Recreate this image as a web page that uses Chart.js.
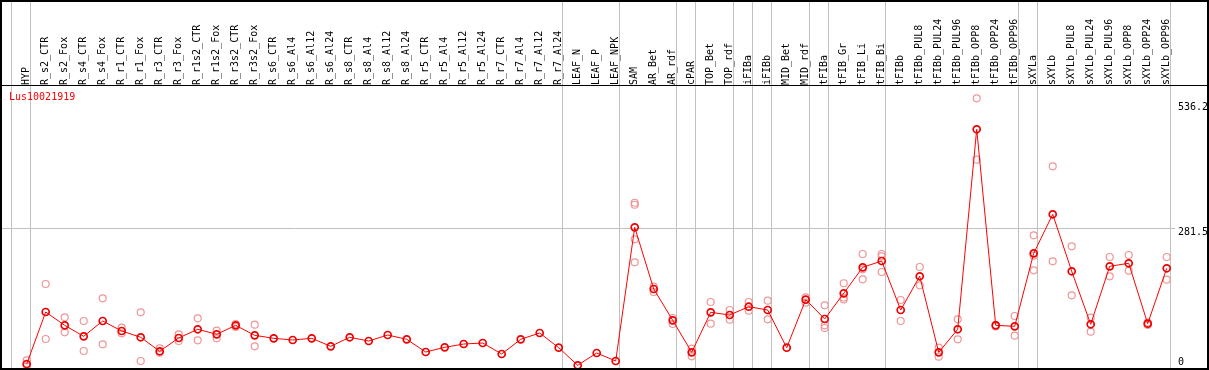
<!DOCTYPE html>
<html><head><meta charset="utf-8">
<script src="https://cdn.jsdelivr.net/npm/chart.js@4/dist/chart.umd.min.js"></script>
<style>html,body{margin:0;padding:0;background:#fff;overflow:hidden}canvas{display:block}</style>
</head><body>
<canvas id="c" width="1209" height="370"></canvas>
<script>
const categories = ['HYP','R_s2_CTR','R_s2_Fox','R_s4_CTR','R_s4_Fox','R_r1_CTR','R_r1_Fox','R_r3_CTR','R_r3_Fox','R_r1s2_CTR','R_r1s2_Fox','R_r3s2_CTR','R_r3s2_Fox','R_s6_CTR','R_s6_Al4','R_s6_Al12','R_s6_Al24','R_s8_CTR','R_s8_Al4','R_s8_Al12','R_s8_Al24','R_r5_CTR','R_r5_Al4','R_r5_Al12','R_r5_Al24','R_r7_CTR','R_r7_Al4','R_r7_Al12','R_r7_Al24','LEAF_N','LEAF_P','LEAF_NPK','SAM','AR_Bet','AR_rdf','cPAR','TOP_Bet','TOP_rdf','iFIBa','iFIBb','MID_Bet','MID_rdf','tFIBa','tFIB_Gr','tFIB_Li','tFIB_Bi','tFIBb','tFIBb_PUL8','tFIBb_PUL24','tFIBb_PUL96','tFIBb_OPP8','tFIBb_OPP24','tFIBb_OPP96','sXYLa','sXYLb','sXYLb_PUL8','sXYLb_PUL24','sXYLb_PUL96','sXYLb_OPP8','sXYLb_OPP24','sXYLb_OPP96'];
const meanValues = [4.5,110.4,83.3,60.9,92.1,71.7,58.9,30.4,57.5,75.2,65,83.3,62.9,56.8,53.4,56.8,40.5,58.9,51.3,63.6,54.8,28.9,38.5,45.2,47.3,24.9,54.8,67.6,37.7,1.8,26.9,10.6,283,157.3,93.5,28.3,109.8,104.3,121.2,114.5,37.7,135.5,96.2,148.5,201.5,214.3,114.5,183.2,28.3,75.2,482.7,83.3,81.3,230,309.5,193.4,85.4,203.5,209.7,86.6,199.5];
const replicateA = [12,167.5,99.6,92.1,138.3,78.5,109.8,36.5,65,97.6,72.3,86,84.6,null,null,null,null,null,null,null,null,null,null,null,null,null,null,null,null,null,null,null,333,162,98.2,35.7,130.8,114.5,130.8,133.5,null,140.4,124,169,228.6,228.6,134.9,202.1,37.7,95.6,545.8,84,102.3,266.7,407.3,244.3,98.8,222.5,226.6,89,222.5];
const replicateB = [2,55.4,69.1,31,44.6,67,10.6,27.5,51.3,52.8,56.8,80,40.5,null,null,null,null,null,null,null,null,null,null,null,null,null,null,null,null,null,null,null,329,151.2,86,20.2,86.6,94.7,113.1,95.6,null,129.4,83.3,140,197.4,223.9,92.1,164.8,19.4,54.8,420.7,81,62.1,225.1,213.7,144.5,70.3,183.2,194.6,84,176.2];
const replicateC = [null,null,null,null,null,null,null,null,null,null,null,null,null,null,null,null,null,null,null,null,null,null,null,null,null,null,null,null,null,null,null,null,258.5,null,null,null,null,null,null,null,null,null,77.8,136,177,191.9,null,null,null,null,null,null,null,195.4,null,null,null,null,null,null,null];
const replicateD = [null,null,null,null,null,null,null,null,null,null,null,null,null,null,null,null,null,null,null,null,null,null,null,null,null,null,null,null,null,null,null,null,211.7,null,null,null,null,null,null,null,null,null,null,null,null,null,null,null,null,null,null,null,null,null,null,null,null,null,null,null,null];
const yTickValues = [0, 281.5, 536.2];
const yTickLabels = ['0', '281.5', '536.2'];
const groupEnds = [-1, 0, 28, 31, 34, 35, 37, 38, 39, 41, 42, 45, 52, 53, 60];
const geneId = 'Lus10021919';

const FONT = 'DejaVu Sans Mono';
const X_MIN = -1.3526, X_MAX = 60.436;

const repPoints = [];
[replicateA, replicateB, replicateC, replicateD].forEach(arr => arr.forEach((v, i) => { if (v !== null) repPoints.push({x: i, y: v}); }));

const decor = {
  id: 'decor',
  beforeDraw(chart) {
    const {ctx, chartArea, scales} = chart;
    const x = scales.x;
    ctx.save();
    ctx.strokeStyle = '#c0c0c0';
    ctx.lineWidth = 1;
    groupEnds.forEach(g => {
      const px = Math.round(x.getPixelForValue(g + 0.19)) + 0.5;
      ctx.beginPath(); ctx.moveTo(px, 0); ctx.lineTo(px, chartArea.bottom); ctx.stroke();
    });
    ctx.restore();
  },
  afterDraw(chart) {
    const {ctx, chartArea} = chart;
    ctx.save();
    ctx.fillStyle = '#000';
    ctx.fillRect(0, chartArea.top - 1, chart.width, 1);
    ctx.strokeStyle = '#000';
    ctx.lineWidth = 2;
    ctx.strokeRect(1, 1, chart.width - 2, chart.height - 2);
    ctx.fillStyle = '#ff0000';
    ctx.font = '10px "' + FONT + '"';
    ctx.textBaseline = 'middle';
    ctx.textAlign = 'left';
    ctx.fillText(geneId, chartArea.left + 8, chartArea.top + 11);
    ctx.restore();
  }
};

new Chart(document.getElementById('c'), {
  type: 'line',
  data: {
    datasets: [
      {
        label: 'mean',
        data: meanValues.map((v, i) => ({x: i, y: v})),
        borderColor: '#ff0000',
        borderWidth: 1,
        pointRadius: 3.5,
        pointBorderWidth: 1.7,
        pointBorderColor: '#ee0000',
        pointBackgroundColor: 'rgba(0,0,0,0)',
        tension: 0,
        clip: 8,
        order: 0
      },
      {
        label: 'replicates',
        data: repPoints,
        showLine: false,
        pointRadius: 3.5,
        pointBorderWidth: 1.2,
        pointBorderColor: '#f09696',
        pointBackgroundColor: 'rgba(0,0,0,0)',
        clip: 8,
        order: 1
      }
    ]
  },
  options: {
    responsive: false,
    animation: false,
    layout: {autoPadding: false, padding: {left: 1, right: 1, top: 1, bottom: 1}},
    plugins: {legend: {display: false}, tooltip: {enabled: false}},
    scales: {
      x: {type: 'linear', display: false, min: X_MIN, max: X_MAX},
      x2: {
        type: 'linear', position: 'top', min: X_MIN, max: X_MAX,
        afterBuildTicks: s => { s.ticks = categories.map((c, i) => ({value: i})); },
        afterFit: s => { s.height = 85; s.paddingLeft = 0; s.paddingRight = 0; },
        ticks: {
          callback: (v, i) => categories[i],
          autoSkip: false, minRotation: 90, maxRotation: 90,
          font: {family: FONT, size: 10}, color: '#000', padding: 1, labelOffset: 12
        },
        grid: {display: false, drawTicks: false},
        border: {display: false}
      },
      y: {
        type: 'linear', position: 'right', min: -5.7, max: 570.9,
        afterBuildTicks: s => { s.ticks = yTickValues.map(v => ({value: v})); },
        afterFit: s => { s.width = 33; s.paddingTop = 0; s.paddingBottom = 0; },
        ticks: {
          callback: (v, i) => (yTickValues[i] === 0 ? [yTickLabels[i], ''] : yTickLabels[i]),
          autoSkip: false,
          font: ctx => ({family: FONT, size: 10, lineHeight: (ctx.tick && ctx.tick.value === 0) ? 1.6 : 1.2}),
          color: '#000', padding: 3, labelOffset: 4.5
        },
        grid: {
          color: ctx => (ctx.tick && ctx.tick.value === 281.5) ? '#c0c0c0' : 'rgba(0,0,0,0)',
          drawTicks: false, lineWidth: 1
        },
        border: {display: false}
      }
    }
  },
  plugins: [decor]
});
</script>
</body></html>
